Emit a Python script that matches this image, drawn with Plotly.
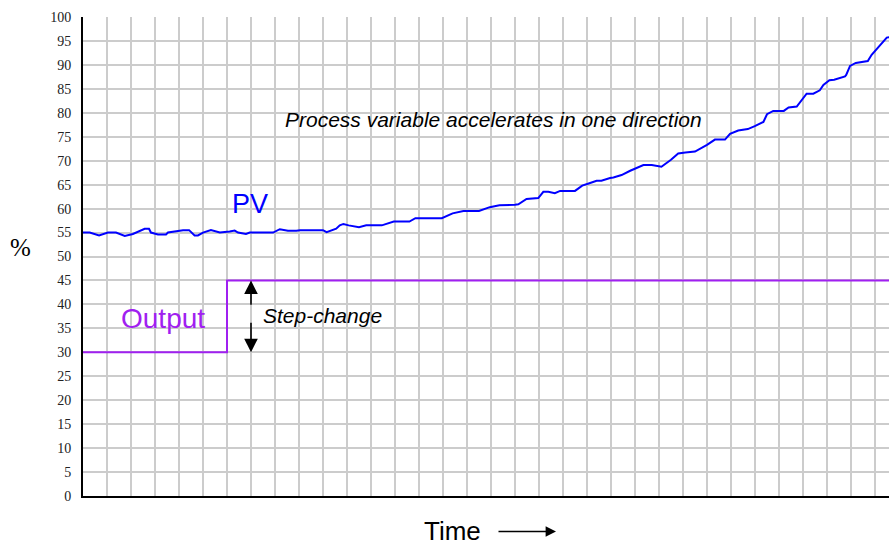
import plotly.graph_objects as go

# Process variable trend (time in grid divisions, value in %)
pv_time = [0, 0.28, 0.67, 1.04, 1.375, 1.74, 2.08, 2.57, 2.75, 2.83, 3.125, 3.46, 3.54,
           4.17, 4.42, 4.65, 4.79, 5.0, 5.33, 5.7, 6.11, 6.32, 6.46, 6.79, 6.95, 7.92,
           8.2, 8.54, 8.89, 9.04, 10.0, 10.15, 10.55, 10.7, 10.85, 11.07, 11.5, 11.8,
           12.45, 12.95, 13.6, 13.85, 14.95, 15.2, 15.4, 15.85, 16.5, 16.95, 17.35,
           18.0, 18.14, 18.48, 18.97, 19.18, 19.39, 19.66, 19.88, 20.5, 20.8, 21.1,
           21.4, 21.6, 21.8, 21.96, 22.1, 22.44, 22.8, 23.35, 23.7, 24.1, 24.5, 24.8,
           25.1, 25.5, 26.0, 26.33, 26.75, 26.96, 27.3, 27.7, 27.99, 28.35, 28.5,
           28.76, 29.2, 29.4, 29.74, 29.94, 30.15, 30.43, 30.7, 30.85, 31.1, 31.3,
           31.75, 31.8, 31.96, 32.2, 32.7, 32.86, 33.2, 33.49, 33.6]
pv_vals = [55, 55, 54.4, 55, 55, 54.3, 54.7, 55.8, 55.8, 55, 54.6, 54.6, 55,
           55.5, 55.5, 54.4, 54.4, 55, 55.5, 55, 55.2, 55.4, 55, 54.7, 55, 55,
           55.7, 55.4, 55.4, 55.5, 55.5, 55.1, 55.8, 56.5, 56.8, 56.5, 56.1, 56.5,
           56.5, 57.3, 57.3, 58, 58, 58.5, 59, 59.5, 59.5, 60.3, 60.7,
           60.8, 60.9, 62, 62.2, 63.5, 63.5, 63.2, 63.7, 63.7, 64.8, 65.3,
           65.8, 65.8, 66.2, 66.4, 66.5, 67.0, 67.9, 69.1, 69.1, 68.75, 70.2, 71.5,
           71.7, 71.9, 73.3, 74.4, 74.4, 75.6, 76.3, 76.6, 77.2, 78.1, 79.7,
           80.4, 80.4, 81.1, 81.3, 82.7, 84.0, 84.0, 84.7, 85.8, 86.8, 86.9,
           87.6, 87.9, 89.8, 90.4, 90.8, 92.1, 94.1, 95.7, 95.8]

# Controller output with a single step change
out_time = [0, 6, 6, 34]
out_vals = [30, 30, 45, 45]

y_ticks = list(range(0, 101, 5))
x_max = 806 / 24

BLUE = "#0000ff"
PURPLE = "#a020f0"
SANS = "Liberation Sans, Arial, sans-serif"
SERIF = "Liberation Serif, Times New Roman, serif"

fig = go.Figure()
fig.add_trace(go.Scatter(x=out_time, y=out_vals, mode="lines",
                         line=dict(color=PURPLE, width=2), hoverinfo="skip"))
fig.add_trace(go.Scatter(x=pv_time, y=pv_vals, mode="lines",
                         line=dict(color=BLUE, width=2), hoverinfo="skip"))

annotations = [
    dict(x=6.96, y=60.9, text="PV", showarrow=False, xref="x", yref="y",
         xanchor="center", yanchor="middle",
         font=dict(family=SANS, size=27, color=BLUE)),
    dict(x=3.33, y=37.0, text="Output", showarrow=False, xref="x", yref="y",
         xanchor="center", yanchor="middle",
         font=dict(family=SANS, size=28, color=PURPLE)),
    dict(x=7.4, y=37.6, text="<i>Step-change</i>", showarrow=False, xref="x", yref="y",
         xanchor="left", yanchor="middle",
         font=dict(family=SANS, size=21, color="black")),
    dict(x=17.1, y=78.6, text="<i>Process variable accelerates in one direction</i>",
         showarrow=False, xref="x", yref="y", xanchor="center", yanchor="middle",
         font=dict(family=SANS, size=21, color="black")),
    # double-headed step-change arrow, drawn as two halves around the label
    dict(x=7, y=45, ax=7, ay=39.6, xref="x", yref="y", axref="x", ayref="y",
         text="", showarrow=True, arrowhead=2, arrowsize=1.7, arrowwidth=1.6,
         arrowcolor="black"),
    dict(x=7, y=30, ax=7, ay=36.5, xref="x", yref="y", axref="x", ayref="y",
         text="", showarrow=True, arrowhead=2, arrowsize=1.7, arrowwidth=1.6,
         arrowcolor="black"),
    # axis titles
    dict(x=(20 - 83) / 806, y=(496.5 - 248) / 479, xref="paper", yref="paper",
         xanchor="center", yanchor="middle",
         text="%", showarrow=False, font=dict(family=SERIF, size=25, color="black")),
    dict(x=(452 - 83) / 806, y=(496.5 - 531) / 479, xref="paper", yref="paper",
         xanchor="center", yanchor="middle",
         text="Time", showarrow=False, font=dict(family=SANS, size=26, color="black")),
    dict(x=(556 - 83) / 806, y=(496.5 - 532) / 479, xref="paper", yref="paper",
         ax=-59, ay=0, text="", showarrow=True, arrowhead=2, arrowsize=1.6,
         arrowwidth=1.3, arrowcolor="black"),
]

fig.update_layout(
    width=889, height=546,
    margin=dict(l=83, r=0, t=17, b=50),
    paper_bgcolor="white", plot_bgcolor="white",
    showlegend=False,
    annotations=annotations,
    xaxis=dict(range=[0, x_max], dtick=1, tick0=0, showgrid=True,
               gridcolor="#cccccc", gridwidth=2, showticklabels=False,
               showline=True, linecolor="black", linewidth=2, zeroline=False,
               fixedrange=True),
    yaxis=dict(range=[0, 100], tickvals=y_ticks, showgrid=True,
               gridcolor="#cccccc", gridwidth=2,
               ticks="outside", ticklen=7, tickcolor="rgba(0,0,0,0)",
               tickfont=dict(family=SERIF, size=14, color="#222222"),
               showline=True, linecolor="black", linewidth=2, zeroline=False,
               fixedrange=True),
)

fig.write_html("out.html", config={"displayModeBar": False})
